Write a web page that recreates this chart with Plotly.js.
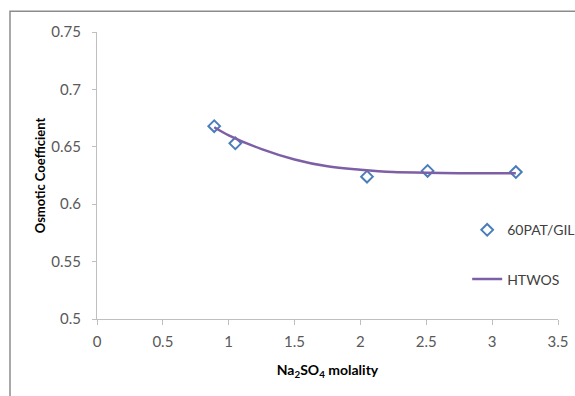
<!DOCTYPE html>
<html>
<head>
<meta charset="utf-8">
<script src="https://cdn.plot.ly/plotly-3.0.1.min.js"></script>
<style>html,body{margin:0;padding:0;background:#fff;}#chart{width:575px;height:396px;}</style>
</head>
<body>
<div id="chart"></div>
<script>
// Experimental points (60PAT/GIL)
var expMolality = [0.89, 1.05, 2.05, 2.51, 3.18];
var expOsmotic = [0.668, 0.653, 0.624, 0.629, 0.628];
// Model curve (HTWOS)
var modelMolality = [0.89, 1.0, 1.25, 1.5, 1.75, 2.0, 2.25, 2.5, 2.75, 3.0, 3.18];
var modelOsmotic = [0.667, 0.660, 0.648, 0.639, 0.633, 0.630, 0.628, 0.6275, 0.627, 0.627, 0.627];
var xTicks = [0, 0.5, 1, 1.5, 2, 2.5, 3, 3.5];
var yTicks = [0.5, 0.55, 0.6, 0.65, 0.7, 0.75];

var font = "Lato, 'Open Sans', sans-serif";

var traces = [
  {
    x: expMolality, y: expOsmotic, name: '60PAT/GIL', type: 'scatter', mode: 'markers',
    legendgroup: 'a',
    marker: {symbol: 'diamond-open', size: 9, color: '#4a7ebb', line: {width: 2, color: '#4a7ebb'}}
  },
  {
    x: modelMolality, y: modelOsmotic, name: 'HTWOS', type: 'scatter', mode: 'lines',
    legendgroup: 'b',
    line: {shape: 'spline', color: '#7d5fa6', width: 2.5}
  }
];

var layout = {
  width: 575, height: 396,
  margin: {l: 97, r: 17, t: 32, b: 77, pad: 0, autoexpand: false},
  paper_bgcolor: '#ffffff', plot_bgcolor: '#ffffff',
  font: {family: font, size: 15, color: '#595959'},
  showlegend: true,
  legend: {
    x: 0.803, y: 0.365, xanchor: 'left', yanchor: 'top',
    traceorder: 'grouped', tracegroupgap: 28,
    font: {family: font, size: 14, color: '#404040'},
    bgcolor: 'rgba(0,0,0,0)'
  },
  xaxis: {
    range: [0, 3.5], tickvals: xTicks, ticktext: xTicks.map(String),
    showgrid: false, zeroline: false, showline: true, linecolor: '#bfbfbf', linewidth: 1,
    ticks: 'outside', ticklen: 5, tickcolor: '#bfbfbf', ticklabelstandoff: 4,
    tickfont: {family: font, size: 15, color: '#595959'},
    title: {text: '<b>Na<sub>2</sub>SO<sub>4</sub> molality</b>', font: {family: font, size: 14, color: '#000'}, standoff: 16}
  },
  yaxis: {
    range: [0.5, 0.75], tickvals: yTicks, ticktext: yTicks.map(String),
    showgrid: false, zeroline: false, showline: true, linecolor: '#bfbfbf', linewidth: 1,
    ticks: 'outside', ticklen: 4, tickcolor: '#bfbfbf', ticklabelstandoff: 8,
    tickfont: {family: font, size: 15, color: '#595959'},
    title: {text: '<b>Osmotic Coefficient</b>', font: {family: font, size: 13, color: '#000'}, standoff: 2}
  },
  shapes: [{
    type: 'rect', xref: 'paper', yref: 'paper',
    x0: (10 - 97) / 461, x1: 1.2, y0: -0.5, y1: (319.4 - 11) / 287.6,
    line: {color: '#8c8c8c', width: 1.5}, fillcolor: 'rgba(0,0,0,0)', layer: 'below'
  }]
};

Plotly.newPlot('chart', traces, layout, {displayModeBar: false, staticPlot: true});
</script>
</body>
</html>
